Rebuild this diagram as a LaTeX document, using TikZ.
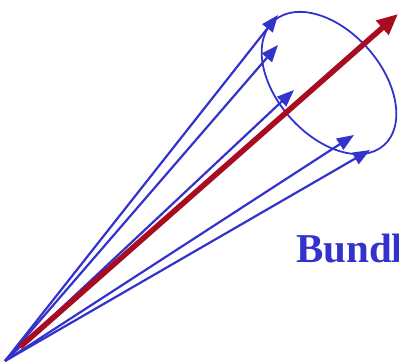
\documentclass[tikz,border=0pt]{standalone}
\usepackage{fontspec}
\setmainfont{Liberation Serif}
\usetikzlibrary{arrows.meta}
\definecolor{bundleblue}{RGB}{51,51,204}
\definecolor{bundlered}{RGB}{168,12,32}
\begin{document}
\begin{tikzpicture}[
    x=1pt, y=-1pt,
    fib/.style={-{Triangle[length=17pt,width=13pt]}, bundleblue, line width=2.2pt},
    base/.style={-{Triangle[length=21pt,width=18pt]}, bundlered, line width=5.5pt},
    ring/.style={bundleblue, line width=1.8pt},
]
\useasboundingbox (0,0) rectangle (399,363);
\clip (0,0) rectangle (399,363);

\coordinate (o) at (5,361);
\coordinate (r0) at (20,347);
\coordinate (t1) at (278,15);
\coordinate (t2) at (278,45);
\coordinate (t3) at (294,90);
\coordinate (t4) at (354,135);
\coordinate (t5) at (370,150);
\coordinate (rt) at (398,14);

% fibres
\foreach \t in {t1,t2,t3,t4,t5}
  \draw[fib] (o) -- (\t);

% circle round the base direction
\draw[ring] (329,83) circle[x radius=83, y radius=52, rotate=-48.6];

\draw[base] (r0) -- (rt);

\node[anchor=base west, inner sep=0pt, text=bundleblue, font=\bfseries\fontsize{41}{41}\selectfont] (lbl) at (296,263) {Bundle};

\end{tikzpicture}
\end{document}
